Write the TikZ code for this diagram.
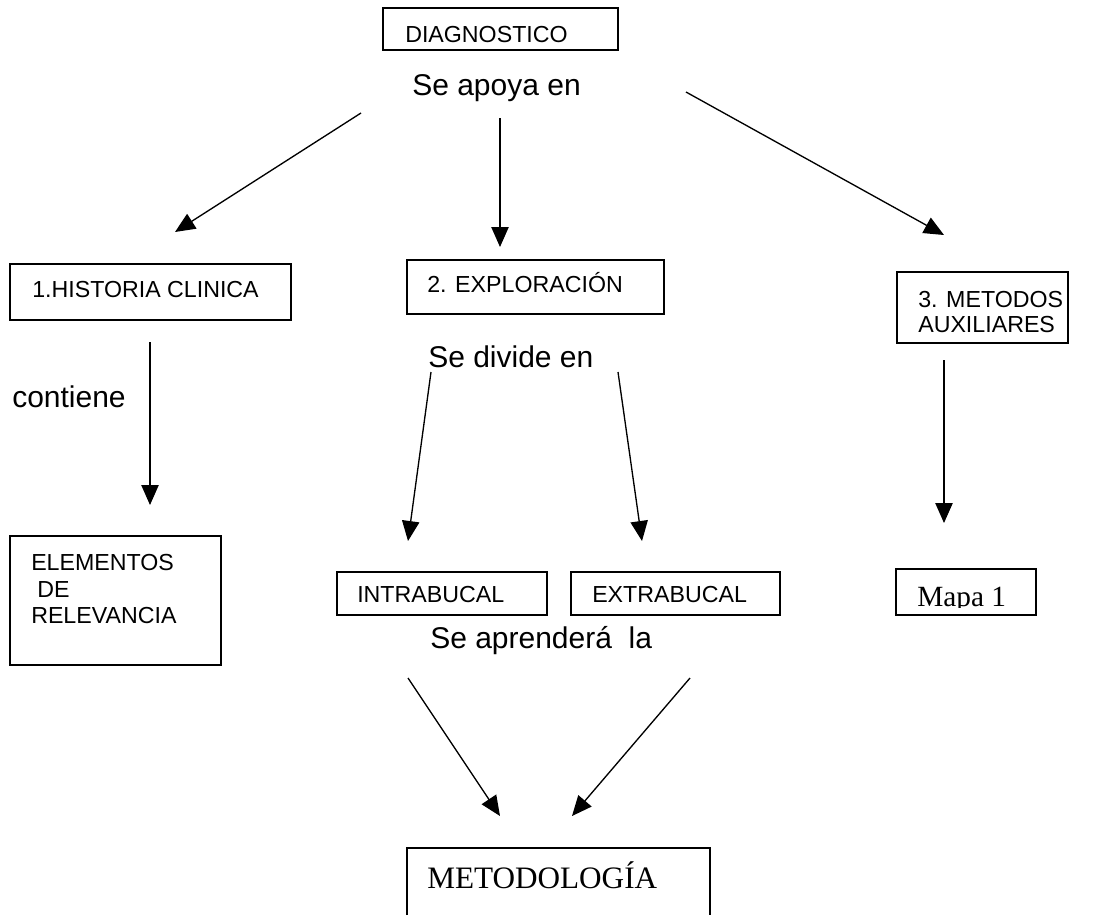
\documentclass[tikz,border=0pt]{standalone}
\usepackage{fontspec}
\setmainfont{Liberation Sans}
\newfontfamily\tnr{Liberation Serif}
\usetikzlibrary{arrows.meta,fit}

\tikzset{
  frame/.style={draw, line width=1.1pt, inner sep=0pt},
  small/.style={font=\fontsize{17.4}{20}\selectfont, inner sep=0pt, anchor=base west},
  big/.style={font=\fontsize{22.5}{27}\selectfont, inner sep=0pt, anchor=base west},
  serif/.style={font=\tnr\fontsize{22}{27}\selectfont, inner sep=0pt, anchor=base west},
  arr/.style={-{Triangle[length=15pt,width=13pt]}, line width=1pt}
}

\begin{document}
\begin{tikzpicture}[x=0.75pt,y=-0.75pt]
\useasboundingbox (0,0) rectangle (1099,915);

% box corners
\coordinate (d1) at (383,8);    \coordinate (d2) at (618,50);
\coordinate (h1) at (10,264);   \coordinate (h2) at (291,320);
\coordinate (e1) at (407,260);  \coordinate (e2) at (664,314);
\coordinate (m1) at (897,272);  \coordinate (m2) at (1068,343);
\coordinate (r1) at (10,536);   \coordinate (r2) at (221,665);
\coordinate (i1) at (337,572);  \coordinate (i2) at (547,615);
\coordinate (x1) at (571,572);  \coordinate (x2) at (780,615);
\coordinate (p1) at (896,569);  \coordinate (p2) at (1036,615);

% boxes
\node[frame, fit=(d1)(d2)] (diag) {};
\node[frame, fit=(h1)(h2)] (hist) {};
\node[frame, fit=(e1)(e2)] (expl) {};
\node[frame, fit=(m1)(m2)] (aux) {};
\node[frame, fit=(r1)(r2)] (elem) {};
\node[frame, fit=(i1)(i2)] (intra) {};
\node[frame, fit=(x1)(x2)] (extra) {};
\node[frame, fit=(p1)(p2)] (mapa) {};
% open-bottom box at the foot of the page
\draw[line width=1.1pt] (407,915) -- (407,848) -- (710,848) -- (710,915);

% box texts
\node[small] (tdiag) at (405,42) {DIAGNOSTICO};
\node[small] (thist) at (32,297) {1.HISTORIA CLINICA};
\node[small] (texpl) at (427,292) {2. EXPLORACIÓN};
\node[small] (taux1) at (918,307) {3. METODOS};
\node[small] (taux2) at (918,332) {AUXILIARES};
\node[small] (tel1) at (31,570) {ELEMENTOS};
\node[small] (tel2) at (37,597) {DE};
\node[small] (tel3) at (31,623) {RELEVANCIA};
\node[small] (tintra) at (357,602) {INTRABUCAL};
\node[small] (textra) at (592,602) {EXTRABUCAL};
\begin{scope}
  \clip (897,570) rectangle (1035,607);
  \node[serif] (tmapa) at (917,606) {Mapa 1};
\end{scope}
\node[serif, font=\tnr\fontsize{23.4}{28}\selectfont] (tmet) at (427,888) {METODOLOGÍA};

% linking phrases
\node[big] (lapoya) at (412,95) {Se apoya en};
\node[big] (ldivide) at (428,367) {Se divide en};
\node[big] (lcont) at (12,407) {contiene};
\node[big] (lapr) at (430,648) {Se aprenderá~~la};

% arrow ends
\coordinate (a1s) at (361,113); \coordinate (a1e) at (175,232);
\coordinate (a2s) at (500,118); \coordinate (a2e) at (500,247);
\coordinate (a3s) at (686,92);  \coordinate (a3e) at (944,235);
\coordinate (a4s) at (150,342); \coordinate (a4e) at (150,505);
\coordinate (a5s) at (431,372); \coordinate (a5e) at (408,541);
\coordinate (a6s) at (618,372); \coordinate (a6e) at (642,541);
\coordinate (a7s) at (944,360); \coordinate (a7e) at (944,523);
\coordinate (a8s) at (408,678); \coordinate (a8e) at (500,816);
\coordinate (a9s) at (690,678); \coordinate (a9e) at (572,816);

\foreach \k in {1,...,9} \draw[arr] (a\k s) -- (a\k e);
\end{tikzpicture}
\end{document}
